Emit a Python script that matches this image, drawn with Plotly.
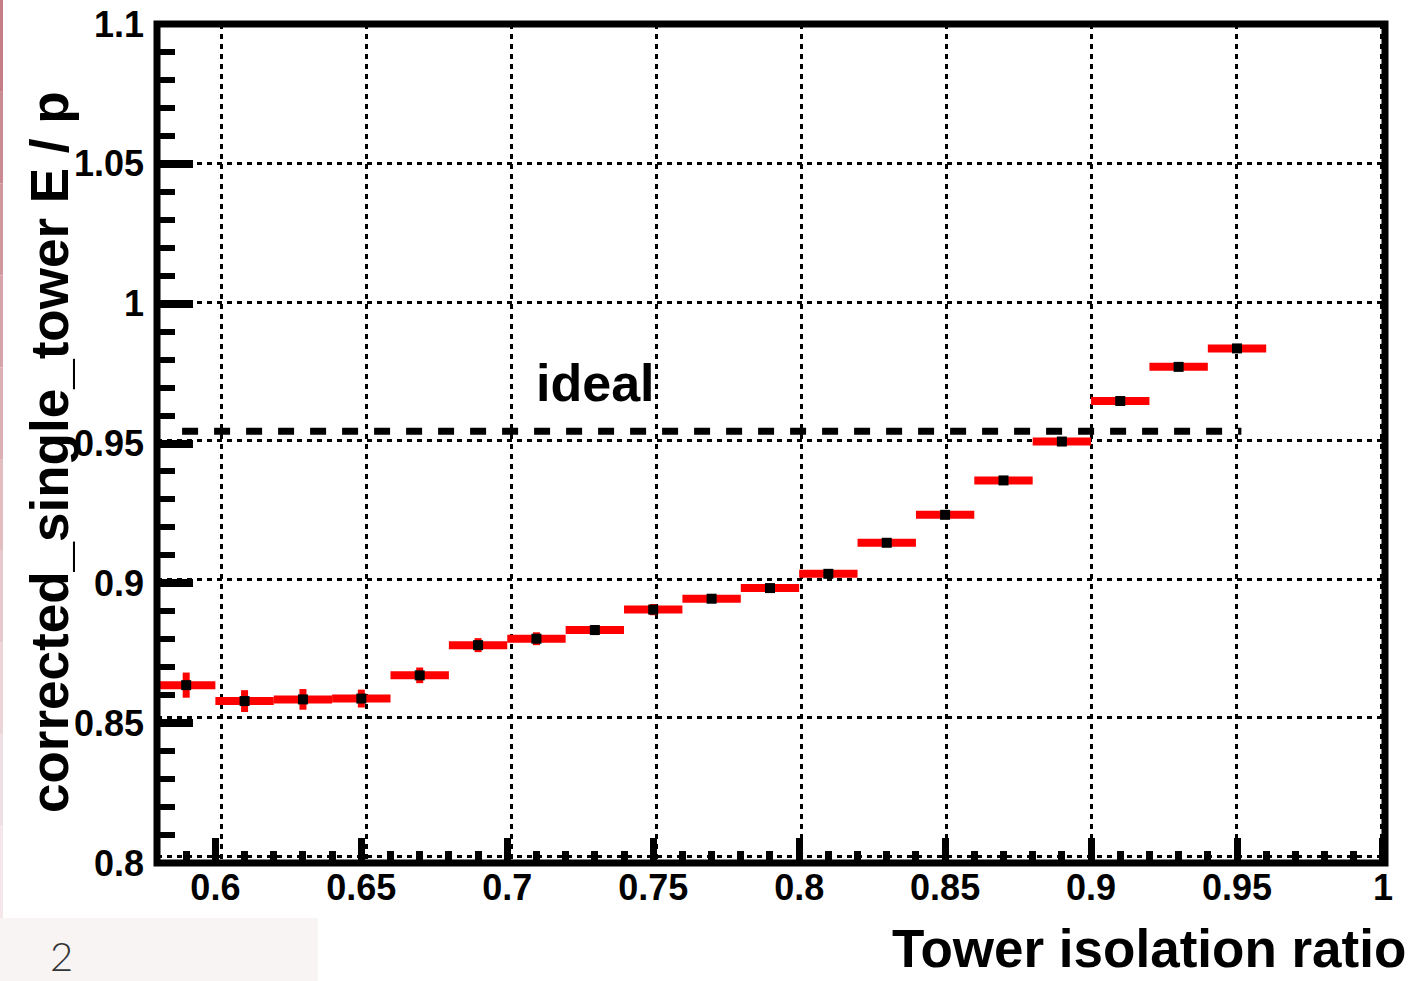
import plotly.graph_objects as go

# ---------------- data ----------------
bin_centers = [0.59, 0.61, 0.63, 0.65, 0.67, 0.69, 0.71, 0.73, 0.75, 0.77,
               0.79, 0.81, 0.83, 0.85, 0.87, 0.89, 0.91, 0.93, 0.95]
bin_half_width = [0.01] * 19
ep_mean = [0.8636, 0.8579, 0.8585, 0.8588, 0.8671, 0.8779, 0.8802, 0.8833,
           0.8906, 0.8945, 0.8983, 0.9034, 0.9145, 0.9245, 0.9368, 0.9507,
           0.9652, 0.9774, 0.9840]
ep_err = [0.0045, 0.0039, 0.0037, 0.0032, 0.0028, 0.0025, 0.0023, 0.0018,
          0.0020, 0.0014, 0.0012, 0.0012, 0.0011, 0.0010, 0.0010, 0.0010,
          0.0010, 0.0010, 0.0010]
ideal_x = [0.5886, 0.9515]
ideal_y = [0.9544, 0.9544]

x_ticks = [0.6, 0.65, 0.7, 0.75, 0.8, 0.85, 0.9, 0.95, 1.0]
x_ticklabels = ["0.6", "0.65", "0.7", "0.75", "0.8", "0.85", "0.9", "0.95", "1"]
y_ticks = [0.8, 0.85, 0.9, 0.95, 1.0, 1.05, 1.1]
y_ticklabels = ["0.8", "0.85", "0.9", "0.95", "1", "1.05", "1.1"]

x_title = "Tower isolation ratio"
y_title = "corrected_single_tower E / p"
ideal_label = "ideal"
page_number = "2"

# ---------------- layout geometry ----------------
FW, FH = 1411, 981
L, R, T, B = 157, 1385, 24, 863
PW, PH = R - L, B - T


def pxx(p):
    return (p - L) / PW


def pxy(p):
    return (B - p) / PH


BOLD = dict(family="Liberation Sans, Arial, sans-serif", color="black", weight="bold")

fig = go.Figure()

# grid-only overlay trace (keeps overlay axes alive)
fig.add_trace(go.Scatter(x=[None], y=[None], xaxis="x2", yaxis="y2",
                         showlegend=False, hoverinfo="skip"))

fig.add_trace(go.Scatter(
    x=bin_centers, y=ep_mean, mode="markers",
    marker=dict(symbol="square", size=10, color="black", line=dict(width=0)),
    error_x=dict(type="data", array=bin_half_width, color="#ff0000",
                 thickness=8, width=0),
    error_y=dict(type="data", array=ep_err, color="#ff0000",
                 thickness=7, width=0),
    showlegend=False, cliponaxis=True,
))

fig.add_trace(go.Scatter(
    x=ideal_x, y=ideal_y, mode="lines",
    line=dict(color="black", width=7, dash="16px,16px"),
    showlegend=False, cliponaxis=True,
))

tickfont = dict(size=36, **BOLD)

fig.update_layout(
    width=FW, height=FH,
    margin=dict(l=L, r=FW - R, t=T, b=FH - B, pad=0, autoexpand=False),
    paper_bgcolor="white", plot_bgcolor="white",
    showlegend=False,
    xaxis=dict(
        range=[0.58, 1.0007], tickmode="array", tickvals=x_ticks,
        ticktext=x_ticklabels, tickfont=tickfont, automargin=False,
        ticks="inside", ticklen=25, tickwidth=7, tickcolor="black",
        minor=dict(dtick=0.01, tick0=0.58, ticks="inside", ticklen=12,
                   tickwidth=7, tickcolor="black", showgrid=False),
        showgrid=False, zeroline=False, showline=False,
    ),
    yaxis=dict(
        range=[0.8, 1.1], tickmode="array", tickvals=y_ticks,
        ticktext=y_ticklabels, tickfont=tickfont, automargin=False,
        ticklabelstandoff=12,
        ticks="inside", ticklen=36, tickwidth=8, tickcolor="black",
        minor=dict(dtick=0.01, tick0=0.8, ticks="inside", ticklen=18,
                   tickwidth=6, tickcolor="black", showgrid=False),
        showgrid=False, zeroline=False, showline=False,
    ),
    xaxis2=dict(
        overlaying="x", range=[0.57757, 1.00138], tickmode="array",
        tickvals=x_ticks, showticklabels=False, ticks="", automargin=False,
        showgrid=True, gridcolor="black", gridwidth=3, griddash="5px,5px",
        zeroline=False, showline=False,
    ),
    yaxis2=dict(
        overlaying="y", range=[0.79766, 1.10032], tickmode="array",
        tickvals=y_ticks, showticklabels=False, ticks="", automargin=False,
        showgrid=True, gridcolor="black", gridwidth=3, griddash="5px,5px",
        zeroline=False, showline=False,
    ),
)

shapes = []
# frame
shapes.append(dict(type="rect", xref="paper", yref="paper", x0=0, x1=1, y0=0, y1=1,
                   line=dict(color="black", width=7), fillcolor="rgba(0,0,0,0)",
                   layer="above"))
# left pink strip (slide edge)
strip_cols = ["#c47d88", "#ca8a94", "#d0979f", "#d6a3aa", "#dcb0b6", "#e2bdc2",
              "#e7c9cd", "#ecd5d8", "#f0dfe2", "#f3e7e9"]
n = len(strip_cols)
for i, c in enumerate(strip_cols):
    y0p = 918 * i / n
    y1p = 918 * (i + 1) / n
    shapes.append(dict(type="rect", xref="paper", yref="paper",
                       x0=pxx(0), x1=pxx(3), y0=pxy(y1p), y1=pxy(y0p),
                       line=dict(width=0), fillcolor=c, layer="above"))
# bottom-left light box
shapes.append(dict(type="rect", xref="paper", yref="paper",
                   x0=pxx(0), x1=pxx(318), y0=pxy(981), y1=pxy(918),
                   line=dict(width=0), fillcolor="#f8f4f4", layer="below"))
fig.update_layout(shapes=shapes)

annotations = [
    dict(text=ideal_label, xref="paper", yref="paper", x=pxx(595), y=pxy(383),
         xanchor="center", yanchor="middle", showarrow=False,
         font=dict(size=52, **BOLD)),
    dict(text=x_title, xref="paper", yref="paper", x=pxx(1408), y=pxy(980),
         xanchor="right", yanchor="bottom", showarrow=False,
         font=dict(size=53, **BOLD)),
    dict(text=y_title, xref="paper", yref="paper", x=pxx(49), y=pxy(452),
         xanchor="center", yanchor="middle", showarrow=False, textangle=-90,
         font=dict(size=53, **BOLD)),
    dict(text=page_number, xref="paper", yref="paper", x=pxx(62), y=pxy(956),
         xanchor="center", yanchor="middle", showarrow=False,
         font=dict(size=40, family="Lato, Open Sans, sans-serif", color="#333333", weight=300)),
]
fig.update_layout(annotations=annotations)

fig.write_html("out.html")
